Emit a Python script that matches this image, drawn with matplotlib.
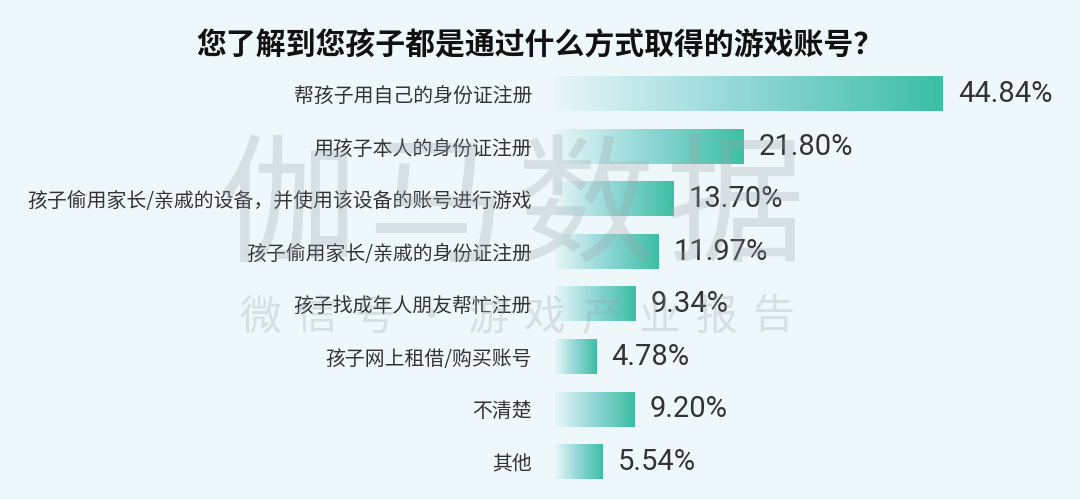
import numpy as np
import matplotlib
matplotlib.use("Agg")
import matplotlib.pyplot as plt
from matplotlib.colors import LinearSegmentedColormap

plt.rcParams['font.family'] = ['Noto Sans CJK SC', 'DejaVu Sans']

title = "您了解到您孩子都是通过什么方式取得的游戏账号？"
categories = [
    "帮孩子用自己的身份证注册",
    "用孩子本人的身份证注册",
    "孩子偷用家长/亲戚的设备，并使用该设备的账号进行游戏",
    "孩子偷用家长/亲戚的身份证注册",
    "孩子找成年人朋友帮忙注册",
    "孩子网上租借/购买账号",
    "不清楚",
    "其他",
]
values = [44.84, 21.80, 13.70, 11.97, 9.34, 4.78, 9.20, 5.54]
value_labels = ["44.84%", "21.80%", "13.70%", "11.97%", "9.34%", "4.78%", "9.20%", "5.54%"]
watermark_main = "伽马数据"
watermark_sub = ["微", "信", "号", "·", "游", "戏", "产", "业", "报", "告"]

W, H = 1080, 499
BG = "#eef8fb"
fig = plt.figure(figsize=(W / 100, H / 100), dpi=100, facecolor=BG)

px_per_unit = 8.65
x0_px = 555
top_px, bot_px = 67.7, 488.3
ax = fig.add_axes([x0_px / W, (H - bot_px) / H, (W - x0_px) / W, (bot_px - top_px) / H])
ax.set_facecolor(BG)
ax.patch.set_alpha(0)
xmax = (W - x0_px) / px_per_unit

cmap = LinearSegmentedColormap.from_list(
    "grad", [(0.0, "#e8f6f8"), (0.5, "#8fd6d6"), (1.0, "#3cbfa3")])
grad = np.linspace(0, 1, 256).reshape(1, -1)
bh = 0.65
for i, v in enumerate(values):
    ax.imshow(grad, cmap=cmap, aspect="auto", interpolation="bilinear",
              extent=[0, v, i + bh / 2, i - bh / 2], zorder=2)
    ax.text(v + 15 / px_per_unit, i, value_labels[i], va="center", ha="left",
            fontsize=21, color="#333333", family=["Roboto", "DejaVu Sans"], zorder=3)

ax.set_xlim(0, xmax)
ax.set_ylim(len(values) - 0.5, -0.5)
ax.set_yticks(range(len(categories)))
ax.set_yticklabels(categories, fontsize=14.3, color="#333333")
ax.tick_params(axis="y", length=0, pad=16.5)
ax.set_xticks([])
for s in ax.spines.values():
    s.set_visible(False)

fig.text(0.5, 1 - 45 / H, title, ha="center", va="center", fontsize=21.5,
         fontweight="heavy", color="#111111")

# watermark
wm_color = "#9aa3a8"
for k, ch in enumerate(watermark_main):
    fig.text((288 + 149 * k) / W, 1 - 212 / H, ch, ha="center", va="center",
             fontsize=100, fontweight="light", color=wm_color, alpha=0.28, zorder=10)
for k, ch in enumerate(watermark_sub):
    fig.text((260 + 57 * k) / W, 1 - 318 / H, ch, ha="center", va="center",
             fontsize=30, fontweight="light", color=wm_color, alpha=0.28, zorder=10)

fig.savefig("out.png", dpi=100, facecolor=BG)
